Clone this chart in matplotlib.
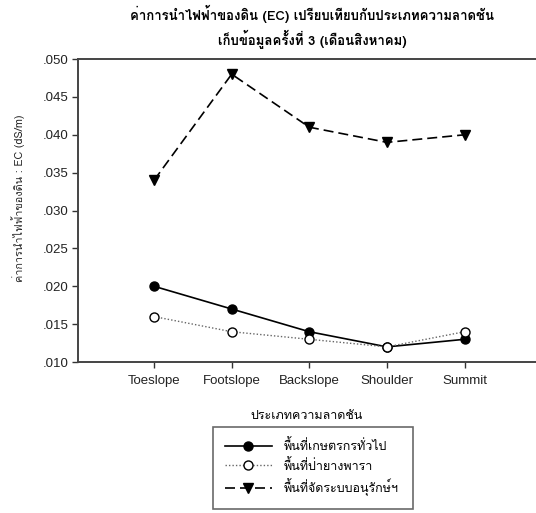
import matplotlib
matplotlib.use("Agg")
import matplotlib.pyplot as plt
from matplotlib import font_manager
from matplotlib.ft2font import FT2Font

# slope positions and soil EC (dS/m), third sampling (August)
slopes = ["Toeslope", "Footslope", "Backslope", "Shoulder", "Summit"]
ec_general = [0.020, 0.017, 0.014, 0.012, 0.013]
ec_rubber = [0.016, 0.014, 0.013, 0.012, 0.014]
ec_conserve = [0.034, 0.048, 0.041, 0.039, 0.040]

series_names = ["พื้นที่เกษตรกรทั่วไป", "พื้นที่ป่ายางพารา", "พื้นที่จัดระบบอนุรักษ์ฯ"]
title = "ค่าการนำไฟฟ้าของดิน (EC) เปรียบเทียบกับประเภทความลาดชัน\nเก็บข้อมูลครั้งที่ 3 (เดือนสิงหาคม)"
xlabel = "ประเภทความลาดชัน"
ylabel = "ค่าการนำไฟฟ้าของดิน : EC (dS/m)"
yticks = [0.010, 0.015, 0.020, 0.025, 0.030, 0.035, 0.040, 0.045, 0.050]


def find_thai_font():
    for f in font_manager.fontManager.ttflist:
        try:
            if 0x0E01 in FT2Font(f.fname).get_charmap():
                return f.name
        except Exception:
            continue
    return None


thai = find_thai_font()
latin = "Liberation Sans"
text_family = [thai, latin, "DejaVu Sans"] if thai else [latin, "DejaVu Sans"]

fig = plt.figure(figsize=(5.36, 5.13), dpi=100)
ax = fig.add_axes([0.1455, 0.2943, 0.8545, 0.5906])

x = list(range(1, len(slopes) + 1))
ax.plot(x, ec_general, color="black", lw=1.2, ls="-", marker="o",
        markersize=6.5, markerfacecolor="black", label=series_names[0])
ax.plot(x, ec_rubber, color="#666666", lw=1.0, ls=(0, (1, 1.5)), marker="o",
        markersize=6.5, markerfacecolor="white", markeredgecolor="black",
        markeredgewidth=1.0, label=series_names[1])
ax.plot(x, ec_conserve, color="black", lw=1.2, ls=(0, (6, 3)), marker="v",
        markersize=7, markerfacecolor="black", label=series_names[2])

ax.set_xlim(0.02, 5.92)
ax.set_ylim(0.010, 0.050)
ax.set_xticks(x)
ax.set_xticklabels(slopes, family=latin, fontsize=9.5, color="#222222")
ax.set_yticks(yticks)
ax.set_yticklabels([f"{v:.3f}"[1:] for v in yticks], family=latin,
                   fontsize=9.5, color="#222222")
ax.tick_params(direction="out", length=4, width=1, color="#333333", pad=3)
ax.tick_params(axis="x", pad=5)

for side in ["left", "bottom", "top"]:
    ax.spines[side].set_color("#444444")
    ax.spines[side].set_linewidth(1.4)
ax.spines["right"].set_visible(False)

ax.set_xlabel(xlabel, family=text_family, fontsize=9, labelpad=17)
fig.text(0.034, 0.614, ylabel, family=text_family, fontsize=7.8,
         rotation=90, ha="center", va="center", color="#222222")
fig.text(0.582, 0.99, title, family=text_family, fontsize=9.5, fontweight="bold",
         ha="center", va="top", linespacing=1.45)

leg = fig.legend(loc="upper left", bbox_to_anchor=(0.397, 0.0, 0.373, 0.168),
                 mode="expand", borderaxespad=0,
                 prop={"family": text_family, "size": 9},
                 frameon=True, fancybox=False, edgecolor="#444444",
                 handlelength=3.7, handletextpad=0.95, labelspacing=0.45,
                 borderpad=1.0)
leg.get_frame().set_linewidth(1.2)

fig.savefig("out.png", dpi=100)
